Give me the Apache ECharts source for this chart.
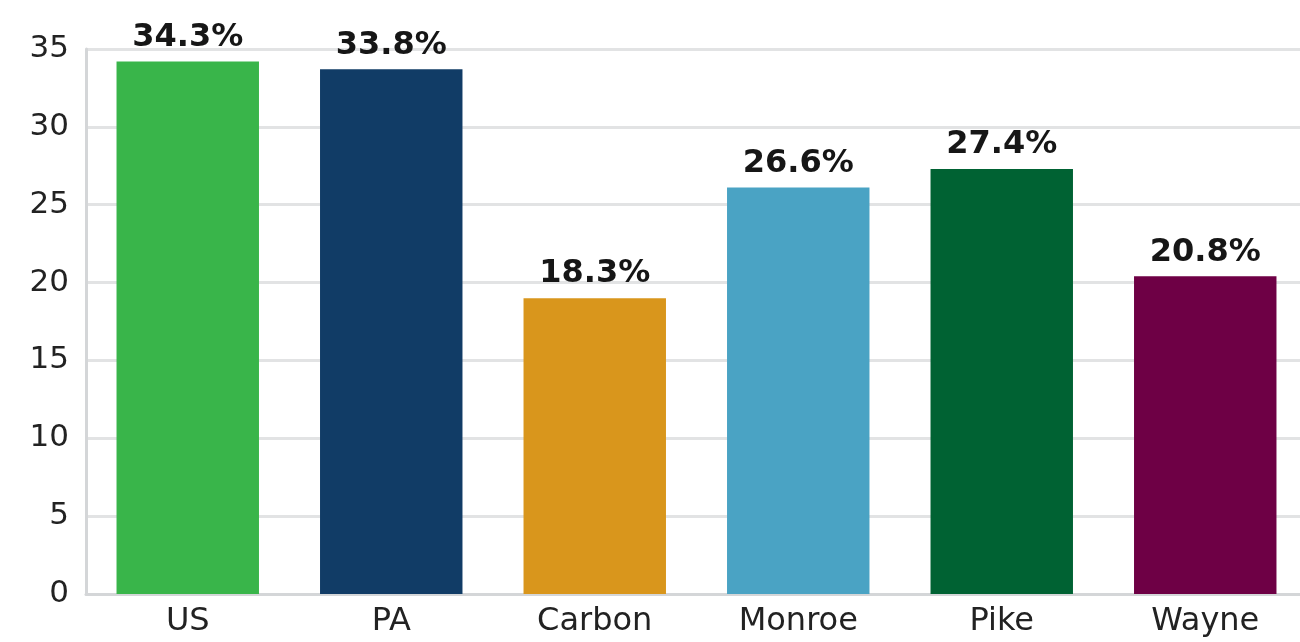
<!DOCTYPE html>
<html>
<head>
<meta charset="utf-8">
<script src="https://cdn.jsdelivr.net/npm/echarts@6/dist/echarts.min.js"></script>
<style>html,body{margin:0;padding:0;background:#fff}#c{width:1300px;height:642px}</style>
</head>
<body>
<div id="c"></div>
<script>
const categories = ['US', 'PA', 'Carbon', 'Monroe', 'Pike', 'Wayne'];
const values = [34.2, 33.7, 19.0, 26.1, 27.3, 20.4];
const labelTexts = ['34.3%', '33.8%', '18.3%', '26.6%', '27.4%', '20.8%'];
const colors = ['#39b54a', '#113c66', '#d9961c', '#4aa3c4', '#006233', '#6e0045'];
const yTicks = { min: 0, max: 35, interval: 5 };

const chart = echarts.init(document.getElementById('c'), null, { renderer: 'canvas' });
chart.setOption({
  animation: false,
  backgroundColor: '#fff',
  grid: { left: 86, right: -7, top: 49, bottom: 48, containLabel: false, outerBoundsMode: 'none' },
  xAxis: {
    type: 'category',
    data: categories,
    axisLine: { show: true, lineStyle: { color: '#d4d6d8', width: 3 } },
    axisTick: { show: false },
    axisLabel: { color: '#222', fontFamily: 'DejaVu Sans', fontSize: 32, margin: 12 }
  },
  yAxis: {
    type: 'value',
    min: yTicks.min, max: yTicks.max, interval: yTicks.interval,
    axisLine: { show: true, lineStyle: { color: '#d4d6d8', width: 3 } },
    axisTick: { show: false },
    splitLine: { show: true, lineStyle: { color: '#e2e3e4', width: 3 } },
    axisLabel: { color: '#222', fontFamily: 'DejaVu Sans', fontSize: 31, margin: 17 }
  },
  series: [{
    type: 'bar',
    barWidth: '70%',
    data: values.map((v, i) => ({ value: v, itemStyle: { color: colors[i] } })),
    label: {
      show: true,
      position: 'top',
      distance: 8,
      color: '#161616',
      fontFamily: 'DejaVu Sans',
      fontWeight: 'bold',
      fontSize: 32,
      formatter: p => labelTexts[p.dataIndex]
    }
  }]
});
</script>
</body>
</html>
